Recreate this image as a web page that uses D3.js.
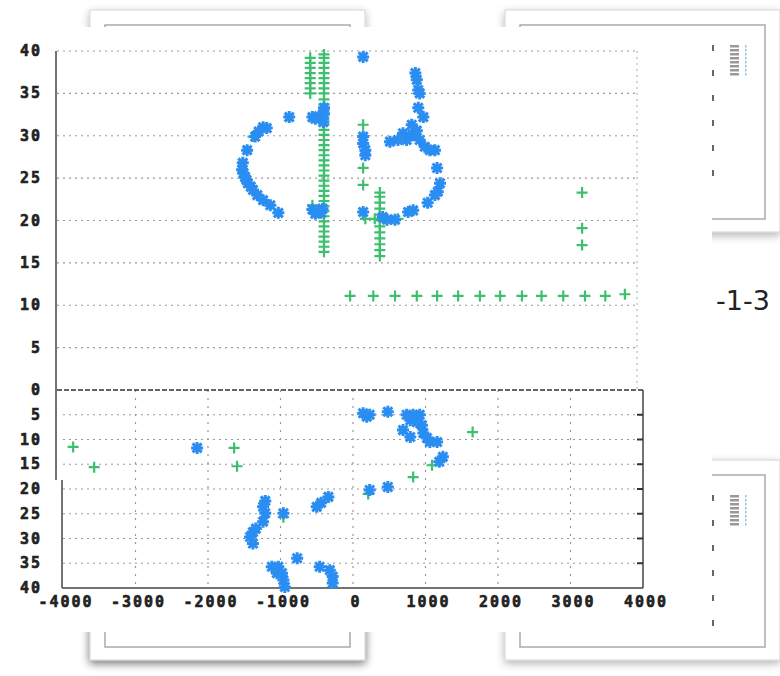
<!DOCTYPE html>
<html>
<head>
<meta charset="utf-8">
<script src="https://cdn.jsdelivr.net/npm/d3@7"></script>
<style>
  body { margin: 0; background: #fff; }
  svg { display: block; }
  .tick-label { font-family: "DejaVu Sans Mono", monospace; font-weight: bold; font-size: 15px; letter-spacing: 2px; fill: #222; stroke: #222; stroke-width: 0.6px; }
</style>
</head>
<body>
<div id="chart"></div>
<script>
// x ticks and y ticks (both panels run 0..40, the lower one is flipped)
var xTicks = [-4000, -3000, -2000, -1000, 0, 1000, 2000, 3000, 4000];
var yTicks = [0, 5, 10, 15, 20, 25, 30, 35, 40];

// upper panel, blue "*" points  [x, y]
var blueTop = [
  [140, 39.3], [-880, 32.2],
  [-560, 32.2], [-470, 32.3], [-400, 32.6], [-400, 33.3], [-410, 31.6], [-520, 32.0],
  [-560, 21.3], [-480, 21.0], [-420, 21.4], [-520, 20.8], [-440, 20.9],
  [-1240, 31.0], [-1190, 30.9], [-1300, 30.5], [-1350, 29.9], [-1460, 28.3], [-1520, 26.8],
  [-1530, 26.0], [-1490, 25.1], [-1450, 24.4], [-1410, 24.0], [-1380, 23.6], [-1320, 23.0],
  [-1240, 22.4], [-1140, 21.8], [-1030, 20.9], [-1510, 25.6], [-1470, 24.8],
  [860, 37.4], [880, 36.6], [900, 35.4], [920, 35.0], [900, 33.3], [970, 32.2],
  [810, 31.3], [690, 30.3], [510, 29.3], [620, 29.5], [740, 29.5], [830, 30.1],
  [920, 29.5], [990, 28.7], [1060, 28.3], [1130, 28.3], [880, 30.6], [780, 30.0],
  [1160, 26.2], [1200, 24.4], [1170, 23.4], [1130, 23.0], [1030, 22.1],
  [830, 21.2], [760, 21.0], [580, 20.1], [470, 20.1], [410, 20.4],
  [140, 21.0], [140, 29.1], [170, 28.3], [140, 29.9], [170, 27.7]
];

// upper panel, green "+" points
var greenTop = [
  [-400, 16.3], [-400, 16.9], [-400, 17.5], [-400, 18.1], [-400, 18.7], [-400, 19.3],
  [-400, 19.9], [-400, 20.5], [-400, 21.1], [-400, 21.7], [-400, 22.3], [-400, 22.9],
  [-400, 23.5], [-400, 24.1], [-400, 24.7], [-400, 25.3], [-400, 25.9], [-400, 26.5],
  [-400, 27.1], [-400, 27.7], [-400, 28.3], [-400, 28.9], [-400, 29.5], [-400, 30.1],
  [-400, 30.7], [-400, 31.3], [-400, 31.9], [-400, 32.5], [-400, 33.1], [-400, 33.7],
  [-400, 34.3], [-400, 35.0], [-400, 35.6], [-400, 36.2], [-400, 36.8], [-400, 37.4],
  [-400, 38.0], [-400, 38.6], [-400, 39.2], [-400, 39.6],
  [-590, 35.0], [-590, 35.6], [-590, 36.2], [-590, 36.8], [-590, 37.4], [-590, 38.0],
  [-590, 38.6], [-590, 39.2], [-560, 21.8],
  [140, 31.3], [140, 26.2], [140, 24.2],
  [370, 15.8], [370, 16.5], [370, 17.2], [370, 17.9], [370, 18.6], [370, 19.3],
  [370, 20.0], [370, 20.7], [370, 21.4], [370, 22.1], [370, 22.8], [370, 23.3],
  [170, 20.2], [300, 20.2], [450, 20.2], [620, 20.2],
  [-1380, 29.9], [-1300, 30.6],
  [3160, 23.3], [3160, 19.1], [3160, 17.1],
  [-40, 11.1], [280, 11.1], [580, 11.1], [880, 11.1], [1160, 11.1], [1450, 11.1],
  [1750, 11.1], [2030, 11.1], [2330, 11.1], [2600, 11.1], [2900, 11.1], [3200, 11.1],
  [3480, 11.1], [3750, 11.3]
];

// lower panel, blue "*" points
var blueBottom = [
  [-2150, 11.7], [140, 4.7], [190, 5.4], [230, 5.0], [480, 4.4],
  [740, 5.0], [830, 5.0], [920, 5.0], [790, 6.1], [880, 6.5], [950, 7.1],
  [690, 8.1], [790, 9.5], [970, 8.7], [1020, 9.7], [1060, 10.5], [1160, 10.5],
  [1240, 13.5], [1190, 14.5], [480, 19.6], [230, 20.2],
  [-960, 24.9], [-1240, 23.6], [-1210, 24.9], [-1240, 26.6], [-1210, 22.4],
  [-1380, 28.7], [-1420, 29.7], [-1380, 31.0], [-1340, 28.0],
  [-500, 23.6], [-340, 21.6], [-440, 22.8],
  [-770, 34.0], [-1120, 35.7], [-1030, 35.7], [-980, 37.0], [-960, 38.4],
  [-940, 39.8], [-1050, 37.0],
  [-460, 35.7], [-320, 36.4], [-280, 37.7], [-280, 39.0]
];

// lower panel, green "+" points
var greenBottom = [
  [-3860, 11.5], [-3570, 15.6], [-1640, 11.7], [-1600, 15.4],
  [1650, 8.5], [1090, 15.2], [830, 17.6], [210, 21.0], [-960, 25.7]
];

var W = 780, H = 676;
var blue = "#2a8df2", green = "#3cbf6e";

var svg = d3.select("#chart").append("svg")
  .attr("width", W)
  .attr("height", H);

var defs = svg.append("defs");
defs.append("filter").attr("id", "shadow")
  .attr("x", "-10%").attr("y", "-10%").attr("width", "120%").attr("height", "130%")
  .append("feDropShadow")
  .attr("dx", 0).attr("dy", 3).attr("stdDeviation", 4)
  .attr("flood-color", "#000").attr("flood-opacity", 0.3);
defs.append("filter").attr("id", "soft")
  .append("feGaussianBlur").attr("stdDeviation", 0.5);

// windows behind the chart
var frames = [[90, 10, 275, 650], [505, 10, 275, 222], [505, 460, 275, 200], [90, 590, 275, 70]];
frames.forEach(function(f) {
  svg.append("rect")
    .attr("x", f[0]).attr("y", f[1]).attr("width", f[2]).attr("height", f[3])
    .attr("fill", "#fff").attr("stroke", "#d4d4d4")
    .attr("filter", "url(#shadow)");
  svg.append("rect")
    .attr("x", f[0] + 15).attr("y", f[1] + 15).attr("width", f[2] - 30).attr("height", f[3] - 28)
    .attr("fill", "none").attr("stroke", "#aaa").attr("stroke-width", 1.5);
});

// bits of the plots in the back windows
[[45, 185], [495, 640]].forEach(function(r) {
  for (var y = r[0]; y <= r[1]; y += 25) {
    svg.append("line").attr("x1", 713).attr("x2", 713).attr("y1", y).attr("y2", y + 6)
      .attr("stroke", "#333").attr("stroke-width", 1.5);
  }
  for (var k = 0; k < 8; k++) {
    svg.append("rect").attr("x", 730).attr("y", r[0] + k * 4).attr("width", 9).attr("height", 2.5)
      .attr("fill", "#999");
    svg.append("rect").attr("x", 745).attr("y", r[0] + k * 4).attr("width", 1.5).attr("height", 2.5)
      .attr("fill", "#8cc8ee");
  }
});

svg.append("text")
  .attr("x", 716).attr("y", 310)
  .style("font-family", "DejaVu Sans, sans-serif")
  .style("font-size", "27px")
  .attr("fill", "#222")
  .text("-1-3");

// the chart window itself
svg.append("rect")
  .attr("x", 0).attr("y", 27).attr("width", 712).attr("height", 605)
  .attr("fill", "#fff");

var x = d3.scaleLinear().domain([-4000, 4000]).range([63, 643]);
var yTop = d3.scaleLinear().domain([0, 40]).range([390, 51]);
var yBot = d3.scaleLinear().domain([0, 40]).range([390, 588]);

var g = svg.append("g");

// grid, upper panel: horizontal only
g.selectAll(".gridTop").data(yTicks.slice(1))
  .enter().append("line")
  .attr("x1", 57).attr("x2", 637)
  .attr("y1", function(d) { return yTop(d); })
  .attr("y2", function(d) { return yTop(d); })
  .attr("stroke", "#999").attr("stroke-width", 1.2).attr("stroke-dasharray", "2,4");

g.append("line").attr("x1", 637).attr("x2", 637).attr("y1", 51).attr("y2", 390)
  .attr("stroke", "#aaa").attr("stroke-dasharray", "2,4");

// grid, lower panel
g.selectAll(".gridBot").data(yTicks.slice(1, 8))
  .enter().append("line")
  .attr("x1", 63).attr("x2", 643)
  .attr("y1", function(d) { return yBot(d); })
  .attr("y2", function(d) { return yBot(d); })
  .attr("stroke", "#999").attr("stroke-width", 1.2).attr("stroke-dasharray", "2,4");

g.selectAll(".gridX").data(xTicks.slice(1, 8))
  .enter().append("line")
  .attr("x1", function(d) { return x(d); })
  .attr("x2", function(d) { return x(d); })
  .attr("y1", 390).attr("y2", 588)
  .attr("stroke", "#999").attr("stroke-width", 1.2).attr("stroke-dasharray", "2,6");

// frame lines
g.append("line").attr("x1", 57).attr("x2", 643).attr("y1", 390).attr("y2", 390)
  .attr("stroke", "#333").attr("stroke-width", 1.5).attr("stroke-dasharray", "5,2");
g.append("line").attr("x1", 56).attr("x2", 56).attr("y1", 51).attr("y2", 480)
  .attr("stroke", "#444").attr("stroke-width", 1.5);
g.append("line").attr("x1", 62).attr("x2", 62).attr("y1", 480).attr("y2", 588)
  .attr("stroke", "#444").attr("stroke-width", 1.5);
g.append("line").attr("x1", 62).attr("x2", 643).attr("y1", 588).attr("y2", 588)
  .attr("stroke", "#444").attr("stroke-width", 1.5);
g.append("line").attr("x1", 643).attr("x2", 643).attr("y1", 390).attr("y2", 588)
  .attr("stroke", "#444").attr("stroke-width", 1.5);

// ticks on lower-right border
g.selectAll(".rtick").data(yTicks.slice(1, 8))
  .enter().append("line")
  .attr("x1", 637).attr("x2", 643)
  .attr("y1", function(d) { return yBot(d); })
  .attr("y2", function(d) { return yBot(d); })
  .attr("stroke", "#333").attr("stroke-width", 2);

// y labels
g.selectAll(".ylTop").data(yTicks)
  .enter().append("text")
  .attr("class", "tick-label")
  .attr("text-anchor", "end")
  .attr("x", 42)
  .attr("y", function(d) { return yTop(d) + 5; })
  .text(function(d) { return d; });

g.selectAll(".ylBot").data(yTicks.slice(1))
  .enter().append("text")
  .attr("class", "tick-label")
  .attr("text-anchor", "end")
  .attr("x", 42)
  .attr("y", function(d) { return yBot(d) + 5; })
  .text(function(d) { return d; });

// x labels
g.selectAll(".xl").data(xTicks)
  .enter().append("text")
  .attr("class", "tick-label")
  .attr("text-anchor", "middle")
  .attr("x", function(d) { return x(d) + 3; })
  .attr("y", 607)
  .text(function(d) { return d; });

var plusPath = "M-5.5,0H5.5M0,-5.5V5.5";
var starPath = "M-6,0H6M0,-6V6M-4.5,-4.5L4.5,4.5M-4.5,4.5L4.5,-4.5";

function drawPoints(data, yScale, path, color, width) {
  g.append("g").attr("filter", "url(#soft)").selectAll("path").data(data)
    .enter().append("path")
    .attr("d", path)
    .attr("transform", function(d) { return "translate(" + x(d[0]) + "," + yScale(d[1]) + ")"; })
    .attr("stroke", color)
    .attr("stroke-width", width)
    .attr("fill", "none");
}

drawPoints(greenTop, yTop, plusPath, green, 2.2);
drawPoints(greenBottom, yBot, plusPath, green, 2.2);
drawPoints(blueTop, yTop, starPath, blue, 3);
drawPoints(blueBottom, yBot, starPath, blue, 3);
</script>
</body>
</html>
